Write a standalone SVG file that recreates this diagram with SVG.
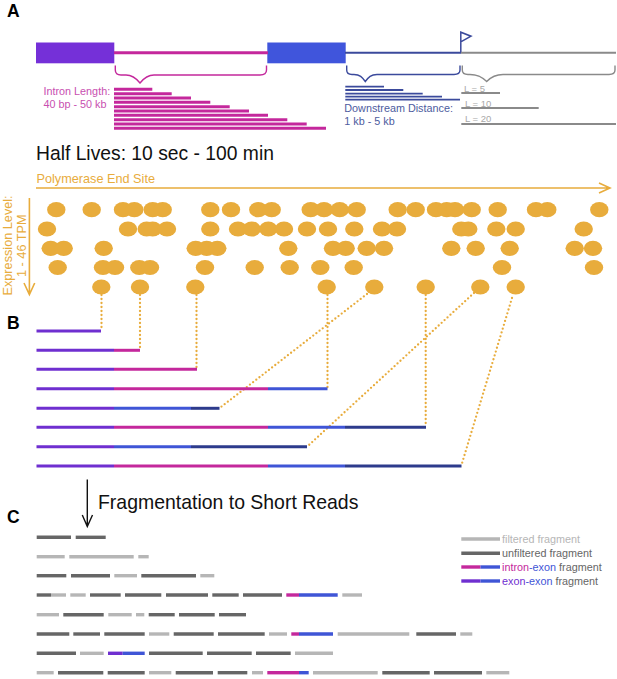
<svg xmlns="http://www.w3.org/2000/svg" width="617" height="679" viewBox="0 0 617 679">
<style>
text{font-family:"Liberation Sans",Arial,sans-serif}
.lab{font-weight:bold;font-size:17.5px;fill:#000}
.mag{stroke:#c4289c}.pur{stroke:#6f2fd0}.blu{stroke:#3f55d6}.nav{stroke:#2d3b8c}
.drk{stroke:#666}.lgt{stroke:#b6b6b6}
.a3 line{stroke-width:3;fill:none}
.ds line{stroke:#3b4a9c;stroke-width:1.8}
.ll line{stroke:#8a8a8a;stroke-width:1.8}
.b line{stroke-width:3}
.c line{stroke-width:3.4}
.dot line{stroke:#e8ac3c;stroke-width:2.3;stroke-linecap:round;stroke-dasharray:0 4}
.br{fill:none;stroke-width:1.4}
.org{fill:#e8ac3c}
.orl{fill:none;stroke:#e8ac3c;stroke-width:1.6}
.it{font-size:10.8px;fill:#c84fb0}
.dt{font-size:10.8px;fill:#4d5c9e}
.lt{font-size:9.5px;fill:#a8a8a8}
.lg{font-size:10.8px;fill:#666}
</style>
<defs><ellipse id="d" class="org" rx="9.2" ry="7.6"/></defs>

<g id="panel-labels">
<text class="lab" x="7" y="17">A</text>
<text class="lab" x="7" y="329">B</text>
<text class="lab" x="7" y="523">C</text>
</g>

<g id="gene-model">
<rect x="36" y="42.5" width="78.3" height="20.8" fill="#7530d8"/>
<rect x="267.3" y="42.5" width="78.4" height="20.8" fill="#4055dc"/>
<line x1="114" y1="52.7" x2="268" y2="52.7" stroke="#c4289c" stroke-width="3"/>
<line x1="345" y1="52.7" x2="461" y2="52.7" stroke="#3b4a9c" stroke-width="2"/>
<line x1="461" y1="52.7" x2="616" y2="52.7" stroke="#8a8a8a" stroke-width="2"/>
<path d="M460.8 52V32.2L471 36.2L460.8 41.8" fill="none" stroke="#3b4a9c" stroke-width="1.5"/>
</g>

<g id="intron-length">
<path class="br" stroke="#c4289c" d="M115.3 65.5V70C115.3 73.5 117 75 121 75H126C132 75 136 78 140 83C144 78 148 75 154 75H260C264.5 75 266.5 73.5 266.5 70V65.5"/>
<text class="it" x="43.5" y="94.5">Intron Length:</text>
<text class="it" x="43.5" y="107.5">40 bp - 50 kb</text>
<g class="a3">
<line class="mag" x1="114" y1="89.3" x2="152.3" y2="89.3"/>
<line class="mag" x1="114" y1="93.7" x2="171.7" y2="93.7"/>
<line class="mag" x1="114" y1="98" x2="191" y2="98"/>
<line class="mag" x1="114" y1="102.3" x2="210.3" y2="102.3"/>
<line class="mag" x1="114" y1="106.7" x2="229.7" y2="106.7"/>
<line class="mag" x1="114" y1="111" x2="249" y2="111"/>
<line class="mag" x1="114" y1="115.3" x2="268" y2="115.3"/>
<line class="mag" x1="114" y1="119.7" x2="287.3" y2="119.7"/>
<line class="mag" x1="114" y1="124" x2="306.7" y2="124"/>
<line class="mag" x1="114" y1="128.3" x2="326" y2="128.3"/>
</g>
</g>

<g id="downstream-distance">
<path class="br" stroke="#3b4a9c" d="M346.7 65.5V70C346.7 73 348.5 74.5 352 74.5H354C360 74.5 362 77 365.3 81.5C368.5 77 371 74.5 377 74.5H454C458 74.5 460 73 460 70V65.5"/>
<g class="ds">
<line x1="345.3" y1="86.7" x2="384" y2="86.7"/>
<line x1="345.3" y1="90" x2="403.3" y2="90"/>
<line x1="345.3" y1="93.7" x2="422.7" y2="93.7"/>
<line x1="345.3" y1="96.7" x2="442" y2="96.7"/>
<line x1="345.3" y1="99.7" x2="460" y2="99.7"/>
</g>
<text class="dt" x="344.3" y="111.5">Downstream Distance:</text>
<text class="dt" x="344.3" y="124.5">1 kb - 5 kb</text>
</g>

<g id="read-length">
<path class="br" stroke="#8a8a8a" d="M462.3 65.5V70C462.3 73 464 74.5 468 74.5H470C478 74.5 482 77 486.7 81.5C491 77 495 74.5 503 74.5H609C613 74.5 615 73 615 70V65.5"/>
<g class="ll">
<line x1="461.3" y1="93" x2="500" y2="93"/>
<line x1="461.3" y1="108" x2="538.7" y2="108"/>
<line x1="461.3" y1="124" x2="616" y2="124"/>
</g>
<text class="lt" x="464" y="91.5">L = 5</text>
<text class="lt" x="465" y="106.5">L = 10</text>
<text class="lt" x="465" y="122.3">L = 20</text>
</g>

<text id="half-lives" x="36" y="160" font-size="19.3" fill="#111">Half Lives: 10 sec - 100 min</text>

<g id="axes">
<text class="org" x="36.5" y="183" font-size="12.7">Polymerase End Site</text>
<path class="orl" d="M36 188H610M599 183L610 188L599 193"/>
<path class="orl" d="M29.4 198V294.5M24 283L29.4 294.5L34.7 283"/>
<text class="org" transform="translate(12 295.5) rotate(-90)" font-size="12.7">Expression Level:</text>
<text class="org" transform="translate(26 277) rotate(-90)" font-size="12.7">1 - 46 TPM</text>
</g>

<g id="polymerase-sites">
<use href="#d" x="56.3" y="209.7"/><use href="#d" x="91.7" y="209.7"/><use href="#d" x="123" y="209.7"/><use href="#d" x="134.3" y="209.7"/><use href="#d" x="152.7" y="209.7"/><use href="#d" x="162.7" y="209.7"/><use href="#d" x="210.3" y="209.7"/><use href="#d" x="231" y="209.7"/><use href="#d" x="258.3" y="209.7"/><use href="#d" x="271.7" y="209.7"/><use href="#d" x="310.7" y="209.7"/><use href="#d" x="324" y="209.7"/><use href="#d" x="339.7" y="209.7"/><use href="#d" x="356.7" y="209.7"/><use href="#d" x="397.7" y="209.7"/><use href="#d" x="415.7" y="209.7"/><use href="#d" x="436" y="209.7"/><use href="#d" x="446.7" y="209.7"/><use href="#d" x="455" y="209.7"/><use href="#d" x="471.7" y="209.7"/><use href="#d" x="497.7" y="209.7"/><use href="#d" x="536" y="209.7"/><use href="#d" x="547.3" y="209.7"/><use href="#d" x="599.3" y="209.7"/>
<use href="#d" x="47" y="229"/><use href="#d" x="128" y="229"/><use href="#d" x="146.7" y="229"/><use href="#d" x="152.7" y="229"/><use href="#d" x="167" y="229"/><use href="#d" x="210.3" y="229"/><use href="#d" x="238" y="229"/><use href="#d" x="251.7" y="229"/><use href="#d" x="268.3" y="229"/><use href="#d" x="284" y="229"/><use href="#d" x="307" y="229"/><use href="#d" x="328" y="229"/><use href="#d" x="354.3" y="229"/><use href="#d" x="382" y="229"/><use href="#d" x="397" y="229"/><use href="#d" x="461.3" y="229"/><use href="#d" x="468.3" y="229"/><use href="#d" x="496.3" y="229"/><use href="#d" x="515.7" y="229"/><use href="#d" x="583.7" y="229"/>
<use href="#d" x="50.7" y="248.3"/><use href="#d" x="63.7" y="248.3"/><use href="#d" x="103.7" y="248.3"/><use href="#d" x="195.7" y="248.3"/><use href="#d" x="206.7" y="248.3"/><use href="#d" x="217.3" y="248.3"/><use href="#d" x="288.3" y="248.3"/><use href="#d" x="333" y="248.3"/><use href="#d" x="345.7" y="248.3"/><use href="#d" x="366.7" y="248.3"/><use href="#d" x="384" y="248.3"/><use href="#d" x="451.3" y="248.3"/><use href="#d" x="475.7" y="248.3"/><use href="#d" x="509.7" y="248.3"/><use href="#d" x="574.7" y="248.3"/><use href="#d" x="593" y="248.3"/>
<use href="#d" x="57.7" y="267.5"/><use href="#d" x="103" y="267.5"/><use href="#d" x="115" y="267.5"/><use href="#d" x="139.3" y="267.5"/><use href="#d" x="150" y="267.5"/><use href="#d" x="205" y="267.5"/><use href="#d" x="254.7" y="267.5"/><use href="#d" x="289.7" y="267.5"/><use href="#d" x="320.3" y="267.5"/><use href="#d" x="353.7" y="267.5"/><use href="#d" x="502" y="267.5"/><use href="#d" x="594" y="267.5"/>
<use href="#d" x="101.3" y="287"/><use href="#d" x="140" y="287"/><use href="#d" x="195.3" y="287"/><use href="#d" x="326.7" y="287"/><use href="#d" x="374.3" y="287"/><use href="#d" x="425.7" y="287"/><use href="#d" x="480.3" y="287"/><use href="#d" x="515.7" y="287"/>
</g>

<g id="connectors" class="dot">
<line x1="101.5" y1="295" x2="101.5" y2="331"/>
<line x1="140" y1="295" x2="140" y2="350"/>
<line x1="196.5" y1="295" x2="196.5" y2="369"/>
<line x1="327.5" y1="295" x2="327.5" y2="388"/>
<line x1="367" y1="294" x2="221" y2="407"/>
<line x1="474" y1="293" x2="309" y2="445"/>
<line x1="425.7" y1="295" x2="425.7" y2="427"/>
<line x1="512" y1="298" x2="461.5" y2="465"/>
</g>

<g id="transcripts" class="b">
<line class="pur" x1="36.5" y1="331" x2="101" y2="331"/>
<line class="pur" x1="36.5" y1="350.3" x2="114" y2="350.3"/><line class="mag" x1="114" y1="350.3" x2="140" y2="350.3"/>
<line class="pur" x1="36.5" y1="369.3" x2="114" y2="369.3"/><line class="mag" x1="114" y1="369.3" x2="197" y2="369.3"/>
<line class="pur" x1="36.5" y1="388.7" x2="114" y2="388.7"/><line class="mag" x1="114" y1="388.7" x2="268" y2="388.7"/><line class="blu" x1="268" y1="388.7" x2="327.5" y2="388.7"/>
<line class="pur" x1="36.5" y1="408.3" x2="114" y2="408.3"/><line class="blu" x1="114" y1="408.3" x2="191" y2="408.3"/><line class="nav" x1="191" y1="408.3" x2="219.5" y2="408.3"/>
<line class="pur" x1="36.5" y1="427.3" x2="114" y2="427.3"/><line class="mag" x1="114" y1="427.3" x2="268" y2="427.3"/><line class="blu" x1="268" y1="427.3" x2="345" y2="427.3"/><line class="nav" x1="345" y1="427.3" x2="426" y2="427.3"/>
<line class="pur" x1="36.5" y1="446.7" x2="114" y2="446.7"/><line class="blu" x1="114" y1="446.7" x2="191" y2="446.7"/><line class="nav" x1="191" y1="446.7" x2="307" y2="446.7"/>
<line class="pur" x1="36.5" y1="466" x2="114" y2="466"/><line class="mag" x1="114" y1="466" x2="268" y2="466"/><line class="blu" x1="268" y1="466" x2="345" y2="466"/><line class="nav" x1="345" y1="466" x2="461.5" y2="466"/>
</g>

<g id="fragmentation">
<path d="M87.3 479.5V526M82.3 515L87.3 526.5L92.5 515" fill="none" stroke="#111" stroke-width="1.4"/>
<text x="98" y="508.5" font-size="19.45" fill="#111">Fragmentation to Short Reads</text>
</g>

<g id="fragments" class="c">
<line class="drk" x1="36.7" y1="537.3" x2="71" y2="537.3"/><line class="drk" x1="75.7" y1="537.3" x2="105.7" y2="537.3"/>
<line class="lgt" x1="36.7" y1="556.7" x2="64.7" y2="556.7"/><line class="lgt" x1="69.3" y1="556.7" x2="133.7" y2="556.7"/><line class="lgt" x1="138.3" y1="556.7" x2="148.7" y2="556.7"/>
<line class="drk" x1="36.7" y1="575.7" x2="66.3" y2="575.7"/><line class="drk" x1="71" y1="575.7" x2="110" y2="575.7"/><line class="lgt" x1="114.3" y1="575.7" x2="137" y2="575.7"/><line class="drk" x1="141.3" y1="575.7" x2="196" y2="575.7"/><line class="lgt" x1="200.3" y1="575.7" x2="214.3" y2="575.7"/>
<line class="drk" x1="36.7" y1="595" x2="51" y2="595"/><line class="lgt" x1="51" y1="595" x2="66" y2="595"/><line class="lgt" x1="70.3" y1="595" x2="85.7" y2="595"/><line class="drk" x1="90" y1="595" x2="120.7" y2="595"/><line class="drk" x1="125" y1="595" x2="161.3" y2="595"/><line class="drk" x1="166" y1="595" x2="208" y2="595"/><line class="drk" x1="212.3" y1="595" x2="238.7" y2="595"/><line class="drk" x1="243" y1="595" x2="282" y2="595"/><line class="mag" x1="286.3" y1="595" x2="299" y2="595"/><line class="blu" x1="299" y1="595" x2="337.7" y2="595"/><line class="lgt" x1="342.3" y1="595" x2="362" y2="595"/>
<line class="lgt" x1="36.7" y1="614.7" x2="59" y2="614.7"/><line class="drk" x1="63.3" y1="614.7" x2="103.7" y2="614.7"/><line class="lgt" x1="108.3" y1="614.7" x2="131.7" y2="614.7"/><line class="lgt" x1="136" y1="614.7" x2="144.3" y2="614.7"/><line class="drk" x1="148.7" y1="614.7" x2="174.7" y2="614.7"/><line class="drk" x1="179" y1="614.7" x2="214.7" y2="614.7"/><line class="drk" x1="219" y1="614.7" x2="246" y2="614.7"/>
<line class="drk" x1="36.7" y1="634" x2="69.3" y2="634"/><line class="drk" x1="73.3" y1="634" x2="100" y2="634"/><line class="drk" x1="104.3" y1="634" x2="144.7" y2="634"/><line class="lgt" x1="149" y1="634" x2="169.3" y2="634"/><line class="drk" x1="173.7" y1="634" x2="213.7" y2="634"/><line class="drk" x1="218" y1="634" x2="264.7" y2="634"/><line class="lgt" x1="269" y1="634" x2="287" y2="634"/><line class="mag" x1="291.3" y1="634" x2="299" y2="634"/><line class="blu" x1="299" y1="634" x2="333" y2="634"/><line class="lgt" x1="337.7" y1="634" x2="409.3" y2="634"/><line class="drk" x1="416.3" y1="634" x2="456" y2="634"/><line class="lgt" x1="460.3" y1="634" x2="472.3" y2="634"/>
<line class="drk" x1="36.7" y1="653.3" x2="76" y2="653.3"/><line class="lgt" x1="80" y1="653.3" x2="103.7" y2="653.3"/><line class="pur" x1="108" y1="653.3" x2="122.7" y2="653.3"/><line class="blu" x1="122.7" y1="653.3" x2="144.7" y2="653.3"/><line class="drk" x1="149" y1="653.3" x2="202.7" y2="653.3"/><line class="drk" x1="207" y1="653.3" x2="251.7" y2="653.3"/><line class="drk" x1="256" y1="653.3" x2="290.7" y2="653.3"/><line class="lgt" x1="295" y1="653.3" x2="333" y2="653.3"/>
<line class="lgt" x1="36.7" y1="672.7" x2="53.7" y2="672.7"/><line class="drk" x1="58" y1="672.7" x2="103.3" y2="672.7"/><line class="drk" x1="107.7" y1="672.7" x2="144.7" y2="672.7"/><line class="lgt" x1="149" y1="672.7" x2="171.3" y2="672.7"/><line class="drk" x1="175.7" y1="672.7" x2="213" y2="672.7"/><line class="drk" x1="217.7" y1="672.7" x2="247.3" y2="672.7"/><line class="lgt" x1="252" y1="672.7" x2="263" y2="672.7"/><line class="mag" x1="267.3" y1="672.7" x2="299" y2="672.7"/><line class="blu" x1="299" y1="672.7" x2="308.7" y2="672.7"/><line class="lgt" x1="313" y1="672.7" x2="377.7" y2="672.7"/><line class="drk" x1="382.3" y1="672.7" x2="429.7" y2="672.7"/><line class="drk" x1="434" y1="672.7" x2="482" y2="672.7"/><line class="lgt" x1="486.3" y1="672.7" x2="509.3" y2="672.7"/>
</g>

<g id="legend">
<g class="c">
<line class="lgt" x1="461.3" y1="539" x2="500" y2="539"/>
<line class="drk" x1="461.3" y1="553.3" x2="500" y2="553.3"/>
<line class="mag" x1="461.3" y1="567" x2="480.5" y2="567"/><line class="blu" x1="480.5" y1="567" x2="500" y2="567"/>
<line class="pur" x1="461.3" y1="581" x2="480.5" y2="581"/><line class="blu" x1="480.5" y1="581" x2="500" y2="581"/>
</g>
<text class="lg" x="502" y="543" style="fill:#b6b6b6">filtered fragment</text>
<text class="lg" x="502" y="557.3">unfiltered fragment</text>
<text class="lg" x="502" y="571"><tspan style="fill:#c4289c">intron</tspan><tspan style="fill:#3f55d6">-exon</tspan> fragment</text>
<text class="lg" x="502" y="585"><tspan style="fill:#6f2fd0">exon</tspan><tspan style="fill:#3f55d6">-exon</tspan> fragment</text>
</g>
</svg>
